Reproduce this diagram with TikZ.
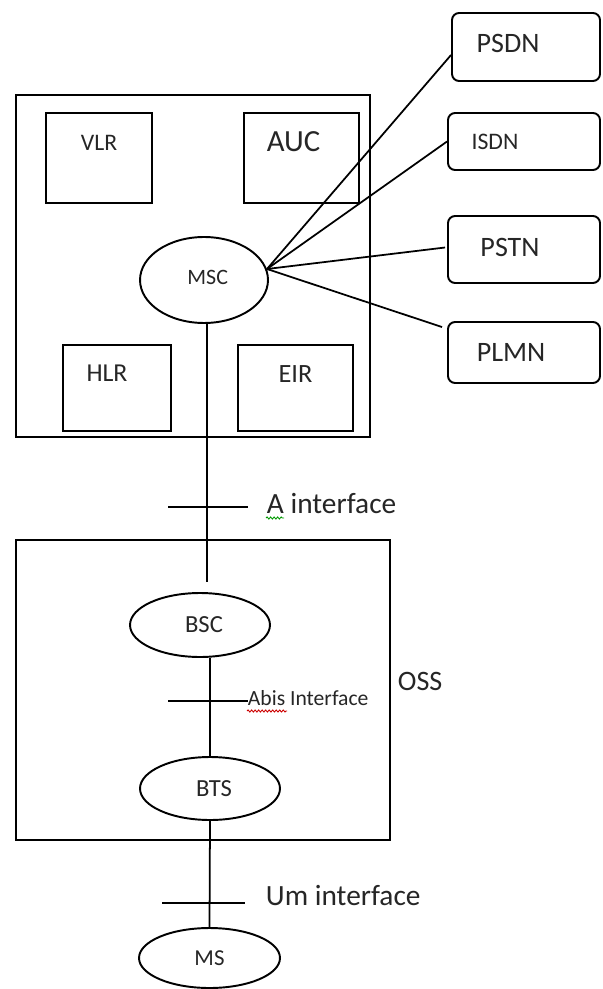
\documentclass[tikz,border=0pt]{standalone}
\usepackage{fontspec}
\setmainfont{Carlito}
\usetikzlibrary{shapes.geometric,calc,decorations.pathmorphing}

\begin{document}
\begin{tikzpicture}[x=0.02cm,y=-0.02cm,
  line width=1.1pt,
  every node/.style={text=black!85},
  unit/.style={draw, rectangle, inner sep=0pt},
  net/.style={draw, rectangle, rounded corners=4pt, inner sep=0pt},
  elem/.style={draw, ellipse, inner sep=0pt},
  link/.style={line width=1pt},
  tick/.style={line width=1.1pt},
  iface/.style={anchor=base west, inner sep=0pt, font=\fontsize{16.7}{18}\selectfont},
  squiggle/.style={line width=0.5pt, decorate,
    decoration={snake, segment length=2pt, amplitude=0.6pt}}]

\useasboundingbox (0,0) rectangle (602,989);

% core network frame and its registers
\node[unit, minimum width=7.08cm, minimum height=6.84cm] (core) at (193,266) {};
\node[unit, minimum width=2.12cm, minimum height=1.8cm,
  label={[yshift=0.3cm,font=\fontsize{13.5}{15}\selectfont]center:VLR}] (vlr) at (99,158) {};
\node[unit, minimum width=2.3cm, minimum height=1.8cm,
  label={[xshift=-0.16cm,yshift=0.32cm,font=\fontsize{17.5}{20}\selectfont]center:AUC}] (auc) at (301.5,158) {};
\node[unit, minimum width=2.16cm, minimum height=1.72cm,
  label={[xshift=-0.2cm,yshift=0.3cm,font=\fontsize{14.7}{17}\selectfont]center:HLR}] (hlr) at (117,388) {};
\node[unit, minimum width=2.3cm, minimum height=1.72cm,
  label={[yshift=0.28cm,font=\fontsize{15}{17}\selectfont]center:EIR}] (eir) at (295.5,388) {};
\node[elem, minimum width=2.56cm, minimum height=1.72cm,
  font=\fontsize{12.5}{14}\selectfont] (msc) at (204,280) {\raisebox{0.1cm}{\hspace{0.15cm}MSC}};

% external networks
\node[net, minimum width=2.96cm, minimum height=1.36cm,
  label={[xshift=-0.36cm,yshift=0.08cm,font=\fontsize{16}{18}\selectfont]center:PSDN}] (psdn) at (526,47) {};
\node[net, minimum width=3.04cm, minimum height=1.14cm,
  label={[xshift=-0.58cm,font=\fontsize{13.5}{15}\selectfont]center:ISDN}] (isdn) at (524,141.5) {};
\node[net, minimum width=3.04cm, minimum height=1.34cm,
  label={[xshift=-0.28cm,yshift=0.05cm,font=\fontsize{16}{18}\selectfont]center:PSTN}] (pstn) at (524,249.5) {};
\node[net, minimum width=3.04cm, minimum height=1.22cm,
  label={[xshift=-0.26cm,font=\fontsize{16}{18}\selectfont]center:PLMN}] (plmn) at (524,352.5) {};

% links from the switching centre to the external networks
\coordinate (hub) at (267,269);
\draw[link] (hub) -- ($(psdn.west)+(0,8)$);
\draw[link] (hub) -- (isdn.west);
\draw[link] (hub) -- ($(pstn.west)+(-2,-2)$);
\draw[link] (hub) -- ($(plmn.north west)+(-5,6)$);

% base station subsystem frame
\node[unit, minimum width=7.48cm, minimum height=6cm] (bss) at (203,690) {};
\node[elem, minimum width=2.8cm, minimum height=1.28cm,
  font=\fontsize{14}{16}\selectfont] (bsc) at (200,625) {\hspace{0.16cm}BSC};
\node[elem, minimum width=2.8cm, minimum height=1.26cm,
  font=\fontsize{14}{16}\selectfont] (bts) at (210,788.5) {\hspace{0.16cm}BTS};
\node[elem, minimum width=2.82cm, minimum height=1.2cm,
  font=\fontsize{13}{15}\selectfont] (ms) at (209.5,958) {MS};
\node[anchor=base west, inner sep=0pt, font=\fontsize{16}{18}\selectfont] (oss) at (397,690) {OSS};

% vertical signalling path
\coordinate (aend) at (207,582);
\draw[link] (msc.south -| aend) -- (aend);
\draw[link] (bsc.south -| bts.north) -- (bts.north);
\draw[link] (bts.south) -- (ms.north);

% interface markers
\coordinate (a1) at (168,507);  \coordinate (a2) at (248,507);
\coordinate (b1) at (168,701);  \coordinate (b2) at (248,701);
\coordinate (u1) at (162,903);  \coordinate (u2) at (245,903);
\draw[tick] (a1) -- (a2);
\draw[tick] (b1) -- (b2);
\draw[tick] (u1) -- (u2);

\node[iface] (alab) at (266,513) {A interface};
\node[iface, font=\fontsize{12.3}{14}\selectfont] (blab) at (247,705) {Abis Interface};
\node[iface] (ulab) at (265,905) {Um interface};

% proofing marks under the interface names
\coordinate (g1) at (266,518); \coordinate (g2) at (284,518);
\coordinate (r1) at (247,711); \coordinate (r2) at (287,711);
\draw[squiggle, green!60!black] (g1) -- (g2);
\draw[squiggle, red!80!black] (r1) -- (r2);

\end{tikzpicture}
\end{document}
